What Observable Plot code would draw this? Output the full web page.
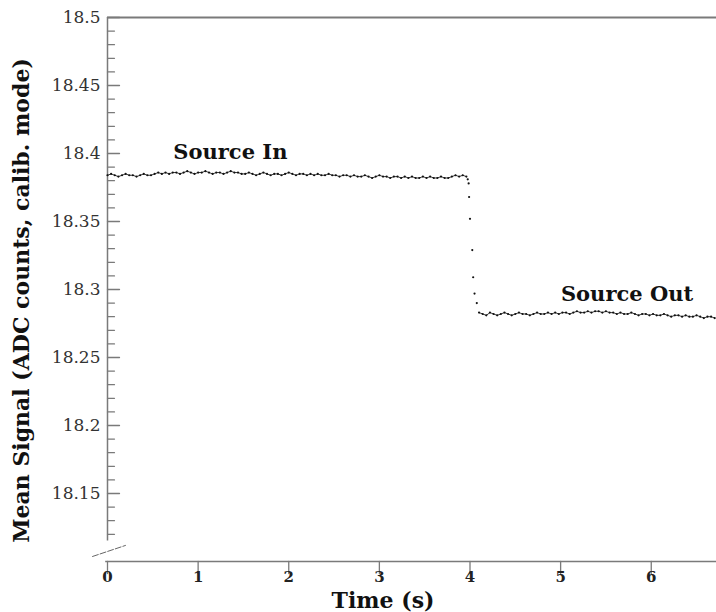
<!DOCTYPE html>
<html><head><meta charset="utf-8">
<script src="https://cdn.jsdelivr.net/npm/d3@7"></script>
<script src="https://cdn.jsdelivr.net/npm/@observablehq/plot@0.6"></script>
<style>body{margin:0;background:#fff}</style>
</head><body><div id="chart"></div>
<script>
// Source In plateau: samples every 0.04 s from t = 0
const inStart = 0, inStep = 0.04;
const sourceIn = [
  18.384,18.385,18.384,18.383,18.384,18.385,18.384,18.384,18.383,18.384,18.385,18.384,18.384,
  18.385,18.386,18.385,18.386,18.385,18.386,18.386,18.385,18.386,18.387,18.386,18.385,18.386,18.386,18.387,18.386,18.385,18.386,18.386,18.385,18.386,18.387,18.386,18.386,18.385,
  18.385,18.386,18.385,18.384,18.385,18.386,18.385,18.384,18.385,18.385,18.384,18.385,18.386,18.385,18.384,18.385,18.385,18.384,18.385,18.384,18.385,18.384,18.384,18.385,18.384,
  18.384,18.383,18.384,18.384,18.383,18.384,18.383,18.383,18.384,18.383,18.382,18.383,18.384,18.383,18.383,18.382,18.383,18.383,18.382,18.383,18.382,18.383,18.382,18.382,18.383,
  18.382,18.383,18.382,18.382,18.383,18.382,18.382,18.383,18.384,18.383,18.384,18.383
];
// Transition samples
const dropTimes  = [3.975, 3.985, 3.99, 4.0, 4.025, 4.035, 4.05, 4.075];
const dropValues = [18.381, 18.378, 18.368, 18.352, 18.329, 18.309, 18.297, 18.290];
// Source Out plateau: samples every 0.04 s from t = 4.1
const outStart = 4.1, outStep = 0.04;
const sourceOut = [
  18.283,18.282,18.281,18.283,18.282,18.281,18.282,18.283,18.282,18.281,
  18.282,18.283,18.282,18.282,18.281,18.282,18.283,18.282,18.282,18.283,
  18.282,18.283,18.282,18.283,18.283,18.282,18.283,18.284,18.283,18.283,
  18.284,18.283,18.284,18.284,18.283,18.284,18.283,18.283,18.282,18.283,
  18.282,18.282,18.283,18.282,18.281,18.282,18.282,18.281,18.282,18.281,
  18.281,18.282,18.281,18.280,18.281,18.281,18.280,18.281,18.280,18.280,
  18.281,18.280,18.279,18.280,18.280,18.279
];
const yMajor = [18.15, 18.2, 18.25, 18.3, 18.35, 18.4, 18.45, 18.5];
const xTicks = [0, 1, 2, 3, 4, 5, 6];
const labels = [
  {t: 1.356, v: 18.3963, text: "Source In"},
  {t: 5.733, v: 18.2919, text: "Source Out"}
];
const xLabel = "Time (s)";
const yLabel = "Mean Signal (ADC counts, calib. mode)";

const inData = sourceIn.map((v, i) => ({t: inStart + i * inStep, v, seg: "in"}));
const dropData = dropTimes.map((t, i) => ({t, v: dropValues[i], seg: "drop"}));
const outData = sourceOut.map((v, i) => ({t: outStart + i * outStep, v, seg: "out"}));
const lineData = inData.concat(outData);
const allData = inData.concat(dropData, outData);
const yMinor = d3.range(18.12, 18.495, 0.01).map(d => +d.toFixed(2)).filter(d => !yMajor.some(m => Math.abs(m - d) < 1e-6));

const xMax = 6.72, yAxisBottom = 18.115;
const serif = "DejaVu Serif";
const axisGray = "#7a7a7a";

const chart = Plot.plot({
  width: 716, height: 612,
  marginLeft: 107, marginRight: 0, marginTop: 17, marginBottom: 51,
  x: {domain: [0, xMax], axis: null},
  y: {domain: [18.1, 18.5], axis: null},
  style: {background: "#fff", overflow: "visible"},
  marks: [
    Plot.ruleY([18.5], {x1: 0, x2: xMax, stroke: axisGray, strokeWidth: 2}),
    Plot.ruleX([0], {y1: yAxisBottom, y2: 18.5, stroke: axisGray, strokeWidth: 1.5}),
    Plot.ruleY([18.1], {x1: -0.02, x2: xMax, stroke: axisGray, strokeWidth: 1.5}),
    Plot.line([{t: -0.165, v: 18.1037}, {t: 0.198, v: 18.1118}], {x: "t", y: "v", stroke: "#666", strokeWidth: 1, strokeDasharray: "6,2", clip: false}),
    Plot.vector(yMajor, {x: 0, y: d => d, rotate: 90, length: 12, anchor: "start", stroke: axisGray, strokeWidth: 1.3, shape: {draw(ctx, l) { ctx.moveTo(0, 0); ctx.lineTo(0, -l); }}}),
    Plot.vector(yMinor, {x: 0, y: d => d, rotate: 90, length: 7, anchor: "start", stroke: axisGray, strokeWidth: 1.2, shape: {draw(ctx, l) { ctx.moveTo(0, 0); ctx.lineTo(0, -l); }}}),
    Plot.vector(xTicks, {x: d => d, y: 18.1, rotate: 0, length: 12, anchor: "middle", stroke: axisGray, strokeWidth: 1.3, shape: {draw(ctx, l) { ctx.moveTo(0, l / 2); ctx.lineTo(0, -l / 2); }}}),
    Plot.text(yMajor, {x: 0, y: d => d, text: d => String(+d.toFixed(2)), textAnchor: "end", dx: -7, fontFamily: serif, fontSize: 17, fill: "#333"}),
    Plot.text(xTicks, {x: d => d, y: 18.1, text: d => String(d), dy: 16, fontFamily: serif, fontWeight: "bold", fontSize: 15, fill: "#222"}),
    Plot.text([xLabel], {frameAnchor: "bottom", textAnchor: "middle", lineAnchor: "middle", dx: -29, dy: 39, text: d => d, fontFamily: serif, fontWeight: "bold", fontSize: 22, fill: "#111"}),
    Plot.text([yLabel], {frameAnchor: "left", textAnchor: "middle", lineAnchor: "middle", dx: -86, dy: 11, rotate: -90, text: d => d, fontFamily: serif, fontWeight: "bold", fontSize: 22, fill: "#111"}),
    Plot.line(lineData, {x: "t", y: "v", z: "seg", stroke: "#222", strokeWidth: 0.9}),
    Plot.dot(allData, {x: "t", y: "v", r: 1.1, fill: "#111"}),
    Plot.text(labels, {x: "t", y: "v", text: "text", lineAnchor: "bottom", fontFamily: serif, fontWeight: "bold", fontSize: 21, fill: "#111"})
  ]
});
document.getElementById("chart").appendChild(chart);
</script>
</body></html>
